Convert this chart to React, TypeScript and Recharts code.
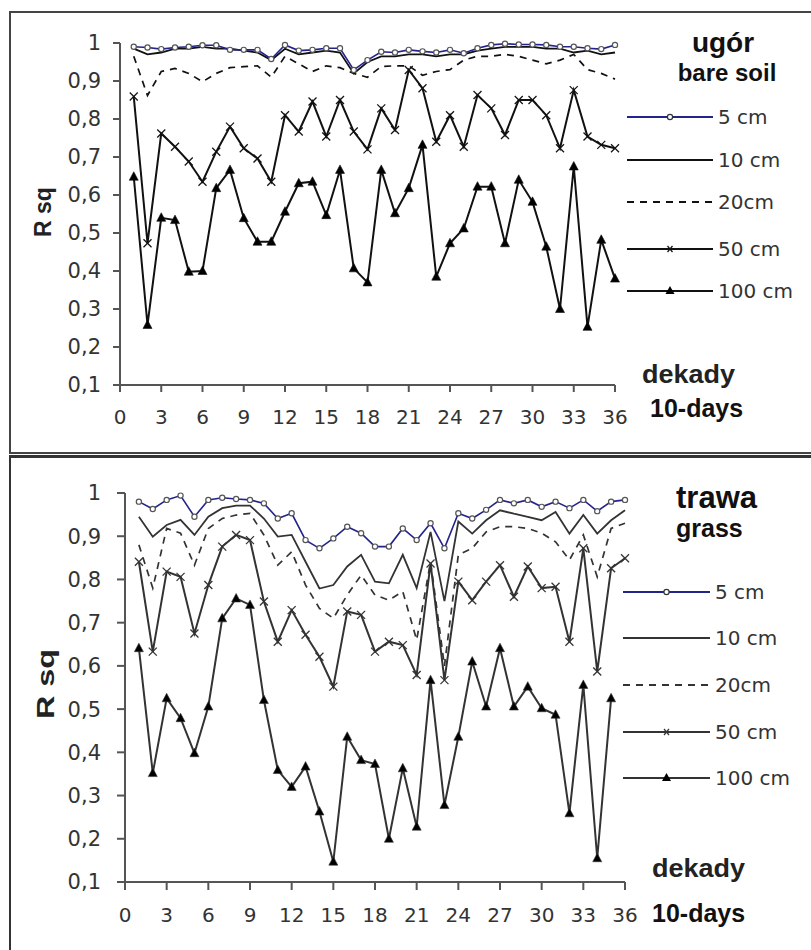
import React from "react";
import { LineChart, Line, XAxis, YAxis } from "recharts";

// decades of the year (10-day periods)
const dekady = [
  1, 2, 3, 4, 5, 6, 7, 8, 9, 10, 11, 12, 13, 14, 15, 16, 17, 18,
  19, 20, 21, 22, 23, 24, 25, 26, 27, 28, 29, 30, 31, 32, 33, 34, 35, 36,
];

const xTicks = [0, 3, 6, 9, 12, 15, 18, 21, 24, 27, 30, 33, 36];
const yTicks = [0.1, 0.2, 0.3, 0.4, 0.5, 0.6, 0.7, 0.8, 0.9, 1];

// ugór / bare soil
const bare5 = [
  0.99, 0.988, 0.984, 0.988, 0.99, 0.994, 0.994, 0.982, 0.982, 0.982, 0.958, 0.995,
  0.98, 0.982, 0.986, 0.986, 0.929, 0.955, 0.977, 0.975, 0.982, 0.978, 0.975, 0.982,
  0.973, 0.986, 0.995, 0.998, 0.996, 0.996, 0.995, 0.99, 0.99, 0.986, 0.984, 0.995,
];
const bare10 = [
  0.985, 0.97, 0.975, 0.985, 0.985, 0.99, 0.985, 0.985, 0.98, 0.975, 0.955, 0.985,
  0.97, 0.975, 0.98, 0.975, 0.92, 0.95, 0.965, 0.965, 0.97, 0.97, 0.965, 0.97,
  0.97, 0.98, 0.985, 0.99, 0.99, 0.99, 0.985, 0.985, 0.975, 0.98, 0.97, 0.975,
];
const bare20 = [
  0.965, 0.862, 0.925, 0.933, 0.92, 0.898, 0.92, 0.935, 0.938, 0.94, 0.91, 0.965,
  0.945, 0.925, 0.94, 0.935, 0.92, 0.91, 0.938, 0.94, 0.94, 0.915, 0.925, 0.93,
  0.955, 0.965, 0.965, 0.97, 0.965, 0.955, 0.945, 0.955, 0.97, 0.93, 0.92, 0.905,
];
const bare50 = [
  0.859, 0.473, 0.762, 0.727, 0.688, 0.635, 0.714, 0.78, 0.723, 0.696, 0.635, 0.81,
  0.767, 0.846, 0.754, 0.85, 0.767, 0.72, 0.828, 0.771, 0.929, 0.881, 0.74, 0.81,
  0.727, 0.863, 0.828, 0.758, 0.85, 0.85, 0.81, 0.723, 0.876, 0.754, 0.732, 0.723,
];
const bare100 = [
  0.648, 0.258, 0.54, 0.534, 0.398, 0.4, 0.618, 0.666, 0.539, 0.477, 0.477, 0.556,
  0.631, 0.635, 0.547, 0.666, 0.407, 0.37, 0.666, 0.552, 0.618, 0.732, 0.385, 0.473,
  0.512, 0.622, 0.622, 0.473, 0.64, 0.582, 0.464, 0.3, 0.675, 0.253, 0.482, 0.38,
];

// trawa / grass
const grass5 = [
  0.98, 0.963, 0.984, 0.994, 0.945, 0.984, 0.989, 0.986, 0.984, 0.976, 0.941, 0.953,
  0.891, 0.872, 0.895, 0.922, 0.907, 0.876, 0.876, 0.918, 0.891, 0.93, 0.872, 0.953,
  0.941, 0.961, 0.984, 0.976, 0.984, 0.968, 0.98, 0.965, 0.984, 0.958, 0.98, 0.984,
];
const grass10 = [
  0.945, 0.899, 0.926, 0.938, 0.903, 0.945, 0.965, 0.971, 0.971, 0.941, 0.899, 0.903,
  0.841, 0.779, 0.787, 0.83, 0.857, 0.795, 0.791, 0.857, 0.78, 0.91, 0.75, 0.934,
  0.906, 0.937, 0.96, 0.952, 0.945, 0.937, 0.956, 0.906, 0.949, 0.906, 0.937, 0.96,
];
const grass20 = [
  0.88, 0.78, 0.918, 0.907, 0.833, 0.918, 0.941, 0.949, 0.953, 0.903, 0.833, 0.864,
  0.787, 0.733, 0.71, 0.764, 0.81, 0.764, 0.752, 0.772, 0.66, 0.841, 0.6, 0.857,
  0.872, 0.91, 0.922, 0.922, 0.918, 0.907, 0.887, 0.845, 0.903, 0.806, 0.918, 0.93,
];
const grass50 = [
  0.841, 0.633, 0.818, 0.806, 0.675, 0.787, 0.876, 0.903, 0.891, 0.749, 0.656, 0.729,
  0.672, 0.621, 0.552, 0.726, 0.718, 0.633, 0.656, 0.648, 0.579, 0.837, 0.567, 0.795,
  0.752, 0.795, 0.833, 0.76, 0.83, 0.78, 0.783, 0.656, 0.872, 0.587, 0.826, 0.849,
];
const grass100 = [
  0.641, 0.352, 0.525, 0.479, 0.398, 0.506, 0.71, 0.756, 0.741, 0.521, 0.359, 0.32,
  0.367, 0.263, 0.147, 0.436, 0.382, 0.373, 0.2, 0.363, 0.228, 0.567, 0.278, 0.436,
  0.61, 0.506, 0.641, 0.506, 0.552, 0.502, 0.487, 0.259, 0.556, 0.155, 0.525, null,
];

const legendLabels = ["5 cm", "10 cm", "20cm", "50 cm", "100 cm"];

const BLUE = "#23238c";
const FONT = "'DejaVu Sans', sans-serif";
const BOLD = "'Liberation Sans', Arial, sans-serif";

const rows = (a: (number | null)[][]) =>
  dekady.map((d, i) => ({
    d,
    s5: a[0][i],
    s10: a[1][i],
    s20: a[2][i],
    s50: a[3][i],
    s100: a[4][i],
  }));

const bareRows = rows([bare5, bare10, bare20, bare50, bare100]);
const grassRows = rows([grass5, grass10, grass20, grass50, grass100]);

const fmt = (v: number) => (v === 1 ? "1" : v.toFixed(1).replace(".", ","));

const CircleDot = (p: any) =>
  p.cy == null || p.value == null ? (
    <g key={p.index} />
  ) : (
    <circle key={p.index} cx={p.cx} cy={p.cy} r={2.6} fill="#fff" stroke="#555" strokeWidth={1.2} />
  );

const crossDot = (ink: string) => (p: any) =>
  p.cy == null || p.value == null ? (
    <g key={p.index} />
  ) : (
    <g key={p.index} stroke={ink} strokeWidth={1.3}>
      <line x1={p.cx - 4} y1={p.cy - 4} x2={p.cx + 4} y2={p.cy + 4} />
      <line x1={p.cx - 4} y1={p.cy + 4} x2={p.cx + 4} y2={p.cy - 4} />
    </g>
  );

const triDot = (ink: string) => (p: any) =>
  p.cy == null || p.value == null ? (
    <g key={p.index} />
  ) : (
    <polygon
      key={p.index}
      points={`${p.cx},${p.cy - 5} ${p.cx - 4.5},${p.cy + 3.5} ${p.cx + 4.5},${p.cy + 3.5}`}
      fill="#000"
      stroke={ink}
      strokeWidth={0.6}
    />
  );

type PanelProps = {
  data: any[];
  top: number;
  height: number;
  plot: { left: number; right: number; top: number; bottom: number };
  ink: string;
  tickSize: number;
};

function Panel({ data, top, height, plot, ink, tickSize }: PanelProps) {
  const yW = 60;
  const xH = 40;
  return (
    <div style={{ position: "absolute", left: 0, top }}>
      <LineChart
        width={811}
        height={height}
        data={data}
        margin={{
          left: plot.left - yW,
          right: 811 - plot.right,
          top: plot.top,
          bottom: height - plot.bottom - xH,
        }}
      >
        <XAxis
          dataKey="d"
          type="number"
          domain={[0, 36]}
          ticks={xTicks}
          interval={0}
          height={xH}
          stroke="#555"
          strokeWidth={2}
          tickSize={tickSize}
          tickMargin={18}
          tick={{ fill: "#333", fontSize: 20, fontFamily: FONT }}
        />
        <YAxis
          type="number"
          domain={[0.1, 1]}
          ticks={yTicks}
          interval={0}
          width={yW}
          stroke="#555"
          strokeWidth={2}
          tickSize={tickSize}
          tickMargin={plot.left - tickSize - 101}
          tickFormatter={fmt}
          tick={{ fill: "#333", fontSize: 21, fontFamily: FONT }}
        />
        <Line dataKey="s100" stroke={ink} strokeWidth={2} dot={triDot(ink)} activeDot={false} isAnimationActive={false} />
        <Line dataKey="s50" stroke={ink} strokeWidth={2} dot={crossDot(ink)} activeDot={false} isAnimationActive={false} />
        <Line dataKey="s20" stroke={ink} strokeWidth={1.7} strokeDasharray="7 6" dot={false} activeDot={false} isAnimationActive={false} />
        <Line dataKey="s10" stroke={ink} strokeWidth={1.8} dot={false} activeDot={false} isAnimationActive={false} />
        <Line dataKey="s5" stroke={BLUE} strokeWidth={1.6} dot={CircleDot} activeDot={false} isAnimationActive={false} />
      </LineChart>
    </div>
  );
}

function Legend({ ys, x1, x2, ink }: { ys: number[]; x1: number; x2: number; ink: string }) {
  const mid = (x1 + x2) / 2;
  return (
    <g>
      {legendLabels.map((label, i) => {
        const y = ys[i];
        const color = i === 0 ? BLUE : ink;
        return (
          <g key={label}>
            <line
              x1={x1}
              x2={x2}
              y1={y}
              y2={y}
              stroke={color}
              strokeWidth={i === 0 ? 2 : 1.8}
              strokeDasharray={i === 2 ? "7 6" : undefined}
            />
            {i === 0 && <circle cx={mid} cy={y} r={2.6} fill="#fff" stroke="#333" strokeWidth={1.2} />}
            {i === 3 && (
              <g stroke={ink} strokeWidth={1.2}>
                <line x1={mid - 2.5} y1={y - 3} x2={mid + 2.5} y2={y + 3} />
                <line x1={mid - 2.5} y1={y + 3} x2={mid + 2.5} y2={y - 3} />
              </g>
            )}
            {i === 4 && (
              <polygon points={`${mid},${y - 5} ${mid - 4.5},${y + 3} ${mid + 4.5},${y + 3}`} fill="#000" />
            )}
            <text x={x2 + 5} y={y} dy="0.36em" fontSize={20} fontFamily={FONT} fill="#333">
              {label}
            </text>
          </g>
        );
      })}
    </g>
  );
}

export default function App() {
  return (
    <div style={{ position: "absolute", left: 0, top: 0, width: 811, height: 950, background: "#fff", overflow: "hidden" }}>
      <div style={{ position: "absolute", left: 9, top: 11, width: 810, height: 439, border: "2px solid #444" }} />
      <div style={{ position: "absolute", left: 9, top: 455, width: 810, height: 520, border: "2px solid #333", borderTopWidth: 3 }} />

      <Panel data={bareRows} top={0} height={452} plot={{ left: 120, right: 615, top: 43, bottom: 385 }} ink="#111" tickSize={7} />
      <Panel data={grassRows} top={457} height={493} plot={{ left: 125, right: 625, top: 36, bottom: 425 }} ink="#333" tickSize={8} />

      <svg width={811} height={950} style={{ position: "absolute", left: 0, top: 0, pointerEvents: "none" }}>
        {/* top panel texts */}
        <text x={723} y={52} textAnchor="middle" fontSize={28} fontWeight="bold" fontFamily={BOLD} fill="#111">
          ugór
        </text>
        <text x={727} y={81} textAnchor="middle" fontSize={24} fontWeight="bold" fontFamily={BOLD} fill="#111">
          bare soil
        </text>
        <Legend ys={[117, 160, 202, 249, 291]} x1={627} x2={713} ink="#111" />
        <text x={642} y={383} fontSize={25} fontWeight="bold" fontFamily={BOLD} fill="#222" textLength={93} lengthAdjust="spacingAndGlyphs">
          dekady
        </text>
        <text x={650} y={417} fontSize={25} fontWeight="bold" fontFamily={BOLD} fill="#111">
          10-days
        </text>
        <text transform="translate(51,212) rotate(-90)" textAnchor="middle" fontSize={23} fontWeight="bold" fontFamily={BOLD} fill="#222">
          R sq
        </text>

        {/* bottom panel texts */}
        <text x={676} y={508} fontSize={31} fontWeight="bold" fontFamily={BOLD} fill="#111">
          trawa
        </text>
        <text x={676} y={537} fontSize={25} fontWeight="bold" fontFamily={BOLD} fill="#111">
          grass
        </text>
        <Legend ys={[592, 638, 685, 732, 778]} x1={623} x2={710} ink="#333" />
        <text x={652} y={877} fontSize={25} fontWeight="bold" fontFamily={BOLD} fill="#222" textLength={93} lengthAdjust="spacingAndGlyphs">
          dekady
        </text>
        <text x={652} y={922} fontSize={25} fontWeight="bold" fontFamily={BOLD} fill="#111">
          10-days
        </text>
        <text transform="translate(54,684) rotate(-90)" textAnchor="middle" fontSize={23} fontWeight="bold" fontFamily={BOLD} fill="#222" textLength={70} lengthAdjust="spacingAndGlyphs">
          R sq
        </text>
      </svg>
    </div>
  );
}
